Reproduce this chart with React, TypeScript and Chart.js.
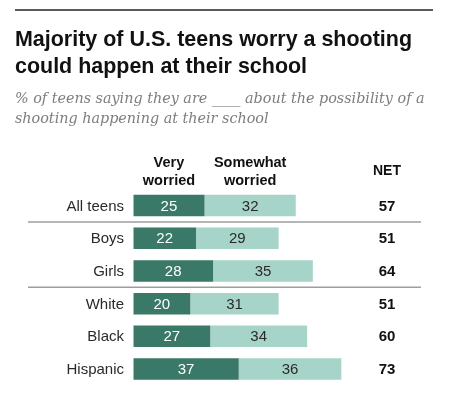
import React, { useEffect, useRef } from "react";
import { Chart, registerables } from "chart.js";

Chart.register(...registerables);

const categories = ["All teens", "Boys", "Girls", "White", "Black", "Hispanic"];
const veryWorried = [25, 22, 28, 20, 27, 37];
const somewhatWorried = [32, 29, 35, 31, 34, 36];
const netValues = [57, 51, 64, 51, 60, 73];
const titleLines = ["Majority of U.S. teens worry a shooting", "could happen at their school"];
const subtitleLines = [
  "% of teens saying they are ____ about the possibility of a",
  "shooting happening at their school",
];
const seriesHeaders = [["Very", "worried"], ["Somewhat", "worried"]];
const netHeader = "NET";
const separatorsAfter = [0, 2];

const DARK = "#3a7867";
const LIGHT = "#a6d4c8";
const SANS = "'Liberation Sans', Arial, sans-serif";

function fitSize(ctx: CanvasRenderingContext2D, text: string, fontTpl: (s: number) => string, target: number, min: number, max: number) {
  ctx.font = fontTpl(20);
  const w = ctx.measureText(text).width;
  let s = (20 * target) / w;
  if (s < min) s = min;
  if (s > max) s = max;
  return s;
}

const overlay = {
  id: "overlay",
  beforeDraw(chart: any) {
    const ctx = chart.ctx;
    ctx.save();
    ctx.fillStyle = "#ffffff";
    ctx.fillRect(0, 0, chart.width, chart.height);
    ctx.restore();
  },
  afterDraw(chart: any) {
    const ctx: CanvasRenderingContext2D = chart.ctx;
    const xs = chart.scales.x;
    const ys = chart.scales.y;
    ctx.save();
    // top rule
    ctx.strokeStyle = "#222";
    ctx.lineWidth = 1.4;
    ctx.beginPath();
    ctx.moveTo(15, 10);
    ctx.lineTo(433, 10);
    ctx.stroke();

    // title (bold sans, horizontally condensed to the reference width)
    ctx.font = `bold 21.5px ${SANS}`;
    ctx.fillStyle = "#111";
    ctx.textAlign = "left";
    ctx.textBaseline = "alphabetic";
    const tw = ctx.measureText(titleLines[0]).width;
    const k = Math.min(1, 397 / tw);
    ctx.save();
    ctx.translate(15, 0);
    ctx.scale(k, 1);
    ctx.fillText(titleLines[0], 0, 45.5);
    ctx.fillText(titleLines[1], 0, 72.5);
    ctx.restore();

    // subtitle
    const sFont = (s: number) => `italic ${s}px 'DejaVu Serif', Georgia, serif`;
    const ss = fitSize(ctx, subtitleLines[0], sFont, 410, 11, 17);
    ctx.font = sFont(ss);
    ctx.fillStyle = "#7d7d7d";
    ctx.fillText(subtitleLines[0], 15, 103);
    ctx.fillText(subtitleLines[1], 15, 123);

    // headers
    ctx.font = `bold 14.5px ${SANS}`;
    ctx.fillStyle = "#111";
    ctx.textAlign = "center";
    const c0 = xs.getPixelForValue(veryWorried[0] / 2);
    const c1 = xs.getPixelForValue(veryWorried[0] + somewhatWorried[0] / 2);
    ctx.fillText(seriesHeaders[0][0], c0, 166.5);
    ctx.fillText(seriesHeaders[0][1], c0, 185);
    ctx.fillText(seriesHeaders[1][0], c1, 166.5);
    ctx.fillText(seriesHeaders[1][1], c1, 185);
    const netX = 387;
    ctx.font = `bold 14px ${SANS}`;
    ctx.fillText(netHeader, netX, 175);

    // separators
    ctx.strokeStyle = "#9e9e9e";
    ctx.lineWidth = 1.5;
    separatorsAfter.forEach((i) => {
      const y = (ys.getPixelForValue(i) + ys.getPixelForValue(i + 1)) / 2;
      ctx.beginPath();
      ctx.moveTo(28, y);
      ctx.lineTo(421, y);
      ctx.stroke();
    });

    // category labels
    ctx.textBaseline = "middle";
    ctx.textAlign = "right";
    ctx.font = `15px ${SANS}`;
    ctx.fillStyle = "#2a2a2a";
    categories.forEach((c, i) => {
      ctx.fillText(c, 124, ys.getPixelForValue(i) + 1);
    });

    // bar values
    ctx.textAlign = "center";
    const m0 = chart.getDatasetMeta(0);
    const m1 = chart.getDatasetMeta(1);
    m0.data.forEach((el: any, i: number) => {
      ctx.fillStyle = "#ffffff";
      ctx.fillText(String(veryWorried[i]), (el.x + el.base) / 2, el.y + 1);
    });
    m1.data.forEach((el: any, i: number) => {
      ctx.fillStyle = "#2a2a2a";
      ctx.fillText(String(somewhatWorried[i]), (el.x + el.base) / 2, el.y + 1);
    });
    // net values
    ctx.font = `bold 15px ${SANS}`;
    ctx.fillStyle = "#111";
    netValues.forEach((v, i) => {
      ctx.fillText(String(v), netX, ys.getPixelForValue(i) + 1);
    });
    ctx.restore();
  },
};

export default function App() {
  const ref = useRef<HTMLCanvasElement | null>(null);
  useEffect(() => {
    document.body.style.margin = "0";
    const chart = new Chart(ref.current as HTMLCanvasElement, {
      type: "bar",
      data: {
        labels: categories,
        datasets: [
          { label: "Very worried", data: veryWorried, backgroundColor: DARK, barPercentage: 1, categoryPercentage: 0.657 },
          { label: "Somewhat worried", data: somewhatWorried, backgroundColor: LIGHT, barPercentage: 1, categoryPercentage: 0.657 },
        ],
      },
      options: {
        indexAxis: "y",
        responsive: false,
        animation: false,
        layout: { padding: { left: 0, right: 35.7, top: 189.2, bottom: 12.6 } },
        plugins: { legend: { display: false }, tooltip: { enabled: false }, title: { display: false } },
        scales: {
          x: { stacked: true, min: 0, max: 100, display: false },
          y: {
            stacked: true,
            grid: { display: false },
            border: { display: false },
            ticks: { display: false },
            afterFit: (scale: any) => {
              scale.width = 133.3;
            },
          },
        },
      },
      plugins: [overlay],
    });
    return () => chart.destroy();
  }, []);
  return <canvas ref={ref} width={454} height={398} style={{ display: "block" }} />;
}
